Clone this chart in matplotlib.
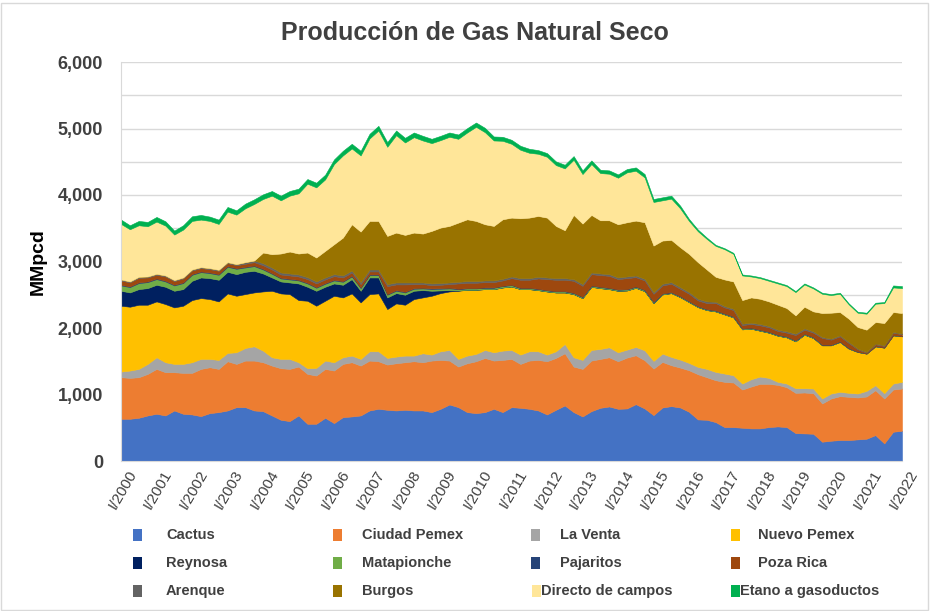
import numpy as np
import matplotlib
matplotlib.use("Agg")
import matplotlib.pyplot as plt
from matplotlib.patches import Rectangle
from matplotlib.transforms import ScaledTranslation

plt.rcParams['font.family'] = ['Liberation Sans', 'DejaVu Sans']

# quarterly production, MMpcd, I/2000 .. I/2022
cactus = [635, 635, 650, 685, 710, 685, 760, 710, 700, 675, 720, 735, 760, 810, 810, 760,
          750, 685, 620, 600, 685, 560, 560, 650, 570, 660, 670, 685, 760, 785,
          770, 760, 770, 760, 760, 735, 785, 850, 810, 735, 720, 735, 785, 735, 810,
          800, 785, 760, 700, 770, 835, 735, 670, 750, 800, 820, 785,
          790, 855, 790, 690, 805, 825, 805, 740, 625, 620,
          585, 510, 510, 500, 490, 490, 510, 520, 510, 420, 415, 410,
          290, 305, 315, 315, 325, 335, 390, 265, 440, 455]
ciudad_pemex = [625, 615, 610, 625, 675, 650, 575, 615, 625, 710, 690, 650, 740, 650, 700, 750,
                735, 750, 775, 785, 735, 750, 725, 735, 790, 800, 815, 750, 750, 715,
                680, 710, 715, 740, 725, 775, 735, 660, 610, 735, 780, 815, 725, 785, 725,
                660, 725, 760, 800, 780, 785, 685, 715, 760, 735, 740, 715,
                765, 735, 725, 700, 685, 615, 600, 625, 680, 640,
                630, 680, 670, 575, 630, 670, 650, 625, 600, 605, 615, 610,
                575, 635, 660, 650, 630, 635, 675, 675, 635, 635]
la_venta = [85, 110, 125, 150, 175, 150, 125, 135, 160, 150, 125, 135, 125, 175, 190, 215,
            175, 125, 140, 150, 65, 85, 115, 125, 125, 100, 100, 100, 140, 150,
            100, 100, 100, 85, 135, 90, 130, 160, 115, 115, 110, 120, 125, 140, 135,
            140, 140, 130, 100, 100, 140, 140, 135, 160, 150, 150, 135,
            120, 125, 150, 115, 125, 125, 120, 110, 110, 125,
            125, 125, 110, 90, 110, 110, 90, 45, 55, 70, 65, 70,
            75, 75, 65, 60, 60, 85, 75, 80, 90, 100]
nuevo_pemex = [990, 960, 965, 890, 840, 875, 850, 875, 935, 915, 900, 880, 895, 850, 810, 810,
               890, 1000, 985, 975, 935, 1015, 935, 900, 1000, 900, 935, 850, 860, 870,
               735, 800, 765, 850, 840, 885, 875, 880, 1025, 990, 965, 915, 950, 950, 955,
               985, 935, 920, 950, 885, 775, 950, 930, 950, 915, 875, 925,
               890, 890, 890, 870, 890, 960, 940, 915, 900, 885,
               910, 890, 870, 815, 760, 690, 680, 695, 695, 705, 805, 760,
               800, 725, 750, 665, 625, 560, 585, 685, 725, 685]
reynosa = [225, 215, 235, 250, 250, 260, 250, 250, 290, 310, 315, 325, 325, 325, 335, 325,
           270, 200, 180, 175, 250, 210, 225, 210, 185, 190, 215, 175, 250, 240,
           175, 155, 150, 125, 110, 75, 40, 20, 5, 0, 0, 0, 0, 0, 0,
           0, 0, 0, 0, 0, 0, 0, 0, 0, 0, 0, 0,
           0, 0, 0, 0, 0, 0, 0, 0, 0, 0,
           0, 0, 0, 0, 0, 0, 0, 0, 0, 0, 0, 0,
           0, 0, 0, 0, 0, 0, 0, 0, 0, 0]
matapionche = [80, 80, 90, 90, 85, 80, 80, 90, 90, 80, 75, 75, 75, 80, 65, 70,
               60, 55, 45, 45, 45, 50, 45, 45, 45, 45, 40, 40, 35, 35,
               40, 35, 35, 30, 25, 25, 25, 25, 20, 20, 20, 20, 20, 20, 20,
               15, 15, 15, 15, 15, 15, 15, 15, 15, 15, 15, 15,
               15, 15, 15, 15, 10, 10, 10, 10, 10, 10,
               10, 10, 10, 10, 10, 10, 10, 10, 10, 10, 10, 10,
               5, 5, 5, 5, 5, 5, 5, 5, 5, 5]
pajaritos = [10, 10, 10, 10, 10, 10, 10, 10, 10, 10, 10, 10, 10, 10, 10, 10,
             10, 10, 10, 10, 10, 10, 10, 10, 10, 10, 10, 10, 10, 10,
             10, 10, 10, 10, 10, 10, 10, 10, 5, 5, 5, 5, 5, 5, 5,
             5, 5, 5, 5, 5, 5, 5, 5, 5, 5, 5, 5,
             5, 5, 5, 5, 5, 5, 5, 5, 5, 5,
             5, 5, 5, 5, 5, 5, 5, 5, 5, 5, 5, 5,
             5, 5, 5, 5, 0, 0, 0, 0, 0, 0]
poza_rica = [65, 60, 70, 60, 55, 65, 55, 60, 55, 50, 50, 50, 45, 45, 45, 50,
             55, 55, 50, 50, 50, 55, 55, 55, 55, 55, 50, 50, 45, 45,
             120, 85, 110, 60, 55, 50, 50, 55, 80, 80, 80, 80, 80, 80, 100,
             120, 120, 155, 165, 170, 170, 180, 165, 170, 175, 180, 155,
             165, 140, 140, 120, 120, 125, 110, 110, 85, 90,
             110, 90, 95, 50, 55, 65, 65, 55, 55, 80, 60, 65,
             100, 75, 75, 75, 35, 10, 25, 20, 35, 25]
arenque = [15, 15, 15, 15, 15, 15, 15, 15, 15, 15, 15, 15, 15, 15, 25, 25,
           30, 30, 30, 30, 30, 30, 30, 30, 30, 30, 30, 30, 30, 30,
           30, 30, 30, 25, 25, 25, 25, 25, 25, 25, 25, 25, 25, 25, 25,
           25, 25, 25, 25, 25, 25, 25, 25, 25, 25, 25, 25,
           25, 25, 25, 25, 25, 25, 25, 25, 25, 25,
           20, 20, 20, 20, 20, 20, 20, 20, 20, 20, 20, 20,
           15, 15, 15, 15, 10, 10, 10, 10, 10, 10]
burgos = [0, 0, 0, 0, 0, 0, 0, 0, 0, 0, 0, 0, 0, 0, 0, 0,
          160, 200, 285, 330, 315, 370, 360, 400, 450, 570, 695, 760, 730, 730,
          725, 750, 715, 750, 735, 790, 835, 850, 890, 930, 905, 845, 820, 895, 885,
          900, 910, 915, 900, 785, 720, 965, 910, 865, 800, 810, 800,
          815, 825, 850, 700, 650, 635, 600, 575, 550, 480,
          375, 400, 410, 355, 380, 380, 370, 375, 350, 275, 325, 300,
          360, 390, 350, 350, 325, 335, 325, 335, 300, 310]
directo_campos = [835, 785, 775, 755, 785, 750, 685, 720, 730, 715, 710, 690, 760, 745, 810, 850,
                  805, 880, 800, 840, 905, 1035, 1055, 1075, 1205, 1235, 1140, 1145, 1240, 1360,
                  1340, 1465, 1390, 1435, 1400, 1320, 1315, 1340, 1260, 1305, 1415, 1385, 1285, 1180, 1110,
                  1030, 975, 935, 915, 915, 930, 830, 745, 765, 710, 700, 700,
                  750, 750, 675, 655, 605, 620, 585, 495, 465, 460,
                  465, 455, 415, 370, 315, 310, 310, 320, 330, 350, 335, 345,
                  290, 265, 275, 215, 215, 240, 275, 300, 370, 375]
etano = [65, 60, 65, 65, 70, 65, 60, 65, 70, 70, 65, 65, 70, 65, 70, 70,
         70, 70, 70, 70, 70, 70, 70, 70, 70, 70, 70, 70, 70, 70,
         70, 70, 70, 70, 70, 65, 65, 65, 65, 65, 65, 65, 60, 60, 60,
         60, 60, 55, 55, 55, 55, 55, 55, 55, 50, 50, 50,
         50, 50, 50, 45, 45, 45, 40, 30, 25, 20,
         15, 15, 15, 15, 15, 15, 15, 15, 15, 15, 15, 15,
         15, 15, 15, 15, 15, 15, 15, 15, 30, 30]

names = ['Cactus', 'Ciudad Pemex', 'La Venta', 'Nuevo Pemex',
         'Reynosa', 'Matapionche', 'Pajaritos', 'Poza Rica',
         'Arenque', 'Burgos', 'Directo de campos', 'Etano a gasoductos']
colors = ['#4472C4', '#ED7D31', '#A5A5A5', '#FFC000',
          '#002060', '#70AD47', '#264478', '#9E480E',
          '#636363', '#997300', '#FFE699', '#00B050']
series = [cactus, ciudad_pemex, la_venta, nuevo_pemex, reynosa, matapionche,
          pajaritos, poza_rica, arenque, burgos, directo_campos, etano]

tick_labels = ['I/2000', 'I/2001', 'I/2002', 'I/2003', 'I/2004', 'I/2005', 'I/2006',
               'I/2007', 'I/2008', 'I/2009', 'I/2010', 'I/2011', 'I/2012', 'I/2013',
               'I/2014', 'I/2015', 'I/2016', 'I/2017', 'I/2018', 'I/2019', 'I/2020',
               'I/2021', 'I/2022']

W, H = 930, 611
fig = plt.figure(figsize=(W / 100, H / 100), dpi=100)
ax = fig.add_axes([121 / W, 1 - 461 / H, (902 - 121) / W, (461 - 62) / H])

x = np.arange(len(cactus))
polys = ax.stackplot(x, *series, colors=colors, linewidth=0)
for p, c in zip(polys, colors):
    p.set_edgecolor(c)
    p.set_linewidth(0.4)

ax.set_xlim(0, len(cactus) - 1)
ax.set_ylim(0, 6000)
ax.set_yticks(np.arange(0, 6001, 1000))
ax.set_yticklabels([f'{v:,}' for v in range(0, 6001, 1000)])
ax.set_yticks(np.arange(0, 6001, 500), minor=True)
ax.grid(axis='y', which='both', color='#D9D9D9', linewidth=1)
ax.set_axisbelow(True)
for s in ['top', 'right']:
    ax.spines[s].set_visible(False)
for s in ['left', 'bottom']:
    ax.spines[s].set_color('#D9D9D9')
ax.tick_params(axis='y', which='both', length=0, pad=13, labelsize=13, labelcolor='#404040')
for lab in ax.get_yticklabels():
    lab.set_fontweight('bold')

ax.set_xticks(x[::4])
ax.set_xticklabels(tick_labels, rotation=60, ha='right', va='top',
                   rotation_mode='anchor', fontsize=11, color='#404040')
ax.tick_params(axis='x', length=0, pad=5)
offset = ScaledTranslation(6 / 100, 0, fig.dpi_scale_trans)
for lab in ax.get_xticklabels():
    lab.set_transform(lab.get_transform() + offset)

fig.text(475 / W, 1 - 33 / H, 'Producción de Gas Natural Seco', ha='center', va='center',
         fontsize=18, fontweight='bold', color='#404040')
fig.text(38 / W, 1 - 262 / H, 'MMpcd', rotation=90, ha='center', va='center',
         fontsize=14, fontweight='bold', color='black')

# legend, 3 rows x 4 columns under the axis
marker_x = [133, 333, 531, 731]
text_x = [166, 362, 560, 758, 166, 362, 560, 758, 166, 362, 541, 740]
row_y = [535, 563, 591]
for i, (name, c) in enumerate(zip(names, colors)):
    r, col = divmod(i, 4)
    yc = row_y[r]
    mx = marker_x[col] if i < 10 else text_x[i] - 9
    fig.patches.append(Rectangle((mx / W, 1 - (yc + 6) / H), 9 / W, 12 / H,
                                 transform=fig.transFigure, facecolor=c, edgecolor='none'))
    fig.text(text_x[i] / W, 1 - yc / H, name, ha='left', va='center',
             fontsize=10.5, fontweight='bold', color='#404040')

fig.patches.append(Rectangle((1 / W, 1 / H), (W - 3) / W, (H - 4) / H, transform=fig.transFigure,
                             facecolor='none', edgecolor='#D9D9D9', linewidth=1))

fig.savefig('out.png', dpi=100)
